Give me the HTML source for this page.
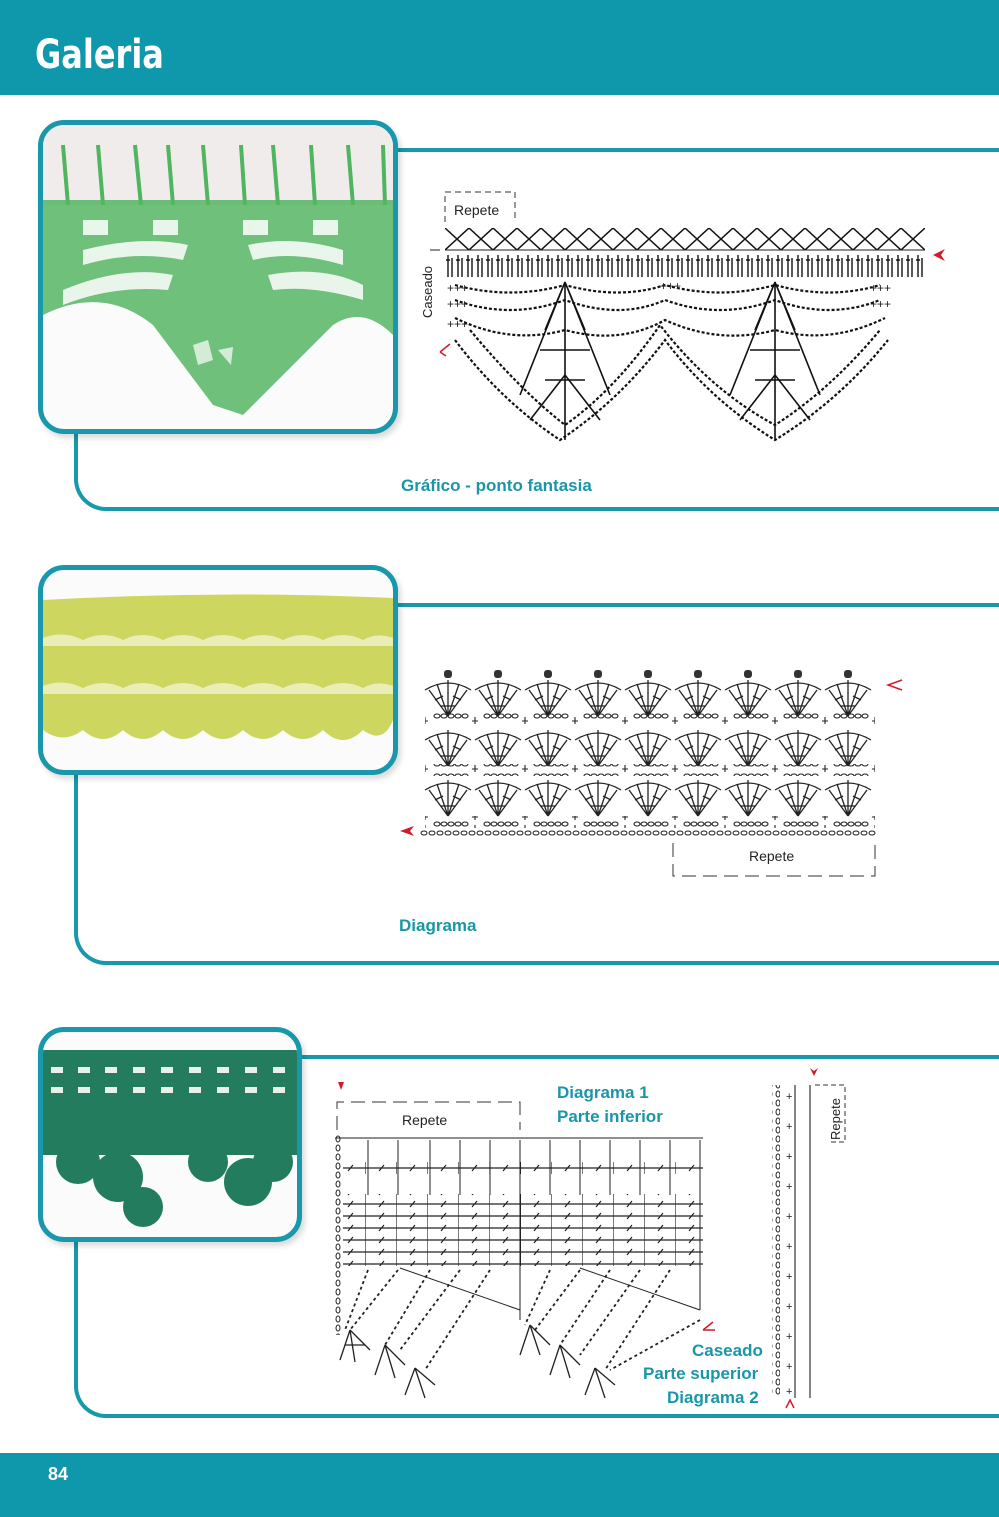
<!DOCTYPE html>
<html><head><meta charset="utf-8"><style>
*{margin:0;padding:0;box-sizing:border-box}
body{width:999px;height:1517px;position:relative;background:#fff;overflow:hidden;font-family:"Liberation Sans",sans-serif}
.abs{position:absolute}
.frame{position:absolute;border:4px solid #1898aa;border-right:none;border-radius:32px 0 0 32px;}
.photo{position:absolute;border:5px solid #1898aa;border-radius:26px;overflow:hidden;background:#fbfbfb;box-shadow:3px 4px 6px rgba(0,0,0,.15)}
.lbl{position:absolute;color:#1a96a8;font-weight:bold;font-size:17px}
</style></head><body>
<div class="abs" style="left:0;top:0;width:999px;height:95px;background:#0f98ab"></div>
<div class="abs" style="left:35px;top:32px;color:#fff;font-size:40px;font-weight:bold;font-family:'DejaVu Sans',sans-serif;transform:scaleX(0.8);transform-origin:left top">Galeria</div>
<div class="abs" style="left:0;top:1453px;width:999px;height:64px;background:#0f98ab"></div>
<div class="abs" style="left:48px;top:1464px;color:#fff;font-size:18px;font-weight:bold">84</div>

<div class="frame" style="left:74px;top:148px;width:940px;height:363px"></div>
<div class="frame" style="left:74px;top:603px;width:940px;height:362px"></div>
<div class="frame" style="left:74px;top:1055px;width:940px;height:363px"></div>

<div class="photo" style="left:38px;top:120px;width:360px;height:314px">
<svg width="350" height="304" viewBox="0 0 350 304">
<rect width="350" height="80" fill="#f1ecec"/>
<g stroke="#4fb55e" stroke-width="4">
<line x1="20" y1="20" x2="25" y2="80"/><line x1="55" y1="20" x2="60" y2="80"/><line x1="92" y1="20" x2="98" y2="80"/><line x1="125" y1="20" x2="130" y2="80"/><line x1="160" y1="20" x2="165" y2="80"/><line x1="198" y1="20" x2="202" y2="80"/><line x1="230" y1="20" x2="235" y2="80"/><line x1="268" y1="20" x2="272" y2="80"/><line x1="305" y1="20" x2="310" y2="80"/><line x1="340" y1="20" x2="342" y2="80"/>
</g>
<path d="M0 75 H350 V210 Q320 180 290 200 L250 240 L200 290 L170 280 L110 200 Q60 160 0 190 Z" fill="#55b563" opacity=".85"/>
<g fill="#fff" opacity=".85">
<rect x="40" y="95" width="25" height="15"/><rect x="110" y="95" width="25" height="15"/><rect x="200" y="95" width="25" height="15"/><rect x="270" y="95" width="25" height="15"/>
<path d="M40 125 Q100 110 145 120 L140 135 Q90 125 40 140Z"/><path d="M205 120 Q250 110 300 125 L300 140 Q250 125 210 135Z"/>
<path d="M20 165 Q80 140 130 150 L125 165 Q70 160 20 180Z"/><path d="M225 150 Q280 140 320 160 L320 175 Q270 160 230 165Z"/>
</g>
<path d="M150 220 L165 215 L170 235 L155 240Z M175 225 L190 222 L188 240Z" fill="#fff" opacity=".7"/>
</svg></div>

<svg class="abs" style="left:415px;top:185px" width="560" height="275" viewBox="415 185 560 275">
<defs>
<pattern id="xx" x="445" y="228" width="24" height="22" patternUnits="userSpaceOnUse"><path d="M0 0 L24 22 M24 0 L0 22" stroke="#111" stroke-width="1.5"/></pattern>
<pattern id="st" x="445" y="255" width="10" height="24" patternUnits="userSpaceOnUse"><path d="M3 0 V24 M1 5 H5 M7 3 V24" stroke="#111" stroke-width="1.4"/></pattern>
</defs>
<path d="M445 222 V192 H515 V222" fill="none" stroke="#333" stroke-dasharray="6 4"/>
<text x="454" y="215" font-size="14" fill="#222">Repete</text>
<rect x="445" y="228" width="480" height="22" fill="url(#xx)"/>
<line x1="445" y1="250" x2="925" y2="250" stroke="#222"/>
<line x1="430" y1="250" x2="440" y2="250" stroke="#222"/>
<rect x="445" y="255" width="480" height="22" fill="url(#st)"/>
<text transform="translate(432,318) rotate(-90)" font-size="13" fill="#222">Caseado</text>
<path d="M933 255 l12 -6 l-4 6 l4 6z" fill="#d21a2a"/>
<path d="M440 352 l10 -8 M440 352 l6 4" stroke="#d21a2a" stroke-width="1.5"/>
<g fill="none" stroke="#111" stroke-width="2.2" stroke-dasharray="3 2">
<path d="M455 285 Q510 300 565 285 Q620 300 665 285 Q720 300 775 285 Q830 300 880 285"/>
<path d="M455 300 Q510 320 565 300 Q620 320 665 300 Q720 320 775 300 Q830 320 880 300"/>
<path d="M455 318 Q510 345 565 330 Q620 345 665 320 Q720 345 775 330 Q830 345 885 318"/>
<path d="M455 340 Q500 400 560 440 Q620 400 665 340 Q710 400 775 440 Q840 400 888 340"/>
<path d="M470 330 Q520 390 565 425 Q615 390 660 325 Q710 390 775 425 Q830 390 880 330"/>
</g>
<g stroke="#111" stroke-width="1.6" fill="none">
<path d="M565 282 L520 395 M565 282 L610 395 M565 282 L545 330 M565 282 L585 330 M565 282 V440 M540 350 L590 350 M545 380 L585 380"/>
<path d="M775 282 L730 395 M775 282 L820 395 M775 282 L755 330 M775 282 L795 330 M775 282 V440 M750 350 L800 350 M755 380 L795 380"/>
<path d="M565 375 L530 420 M565 375 L600 420 M775 375 L740 420 M775 375 L810 420"/>
</g>
<g fill="#222" font-size="12"><text x="447" y="292">+++</text><text x="447" y="308">+++</text><text x="447" y="328">+++</text><text x="660" y="290">+++</text><text x="870" y="292">+++</text><text x="870" y="308">+++</text></g>
</svg>
<div class="lbl" style="left:401px;top:476px">Gráfico - ponto fantasia</div>

<div class="photo" style="left:38px;top:565px;width:360px;height:210px">
<svg width="350" height="200" viewBox="0 0 350 200">
<path d="M0 30 Q175 20 350 28 V150 Q340 175 320 160 Q300 180 280 160 Q260 178 240 160 Q220 178 200 160 Q180 178 160 160 Q140 178 120 160 Q100 178 80 160 Q60 178 40 160 Q20 175 0 160Z" fill="#cdd760"/>
<g fill="#eef0c0" opacity=".9">
<path d="M0 68 Q20 60 40 70 Q60 60 80 70 Q100 60 120 70 Q140 60 160 70 Q180 60 200 70 Q220 60 240 70 Q260 60 280 70 Q300 60 320 70 Q335 62 350 68 V76 H0Z"/>
<path d="M0 116 Q20 108 40 118 Q60 108 80 118 Q100 108 120 118 Q140 108 160 118 Q180 108 200 118 Q220 108 240 118 Q260 108 280 118 Q300 108 320 118 Q335 110 350 116 V124 H0Z"/>
</g>
</svg></div>

<svg class="abs" style="left:395px;top:655px" width="520" height="230" viewBox="395 655 520 230">
<defs>
<pattern id="fan" x="423" y="668" width="50" height="50" patternUnits="userSpaceOnUse">
<g fill="none" stroke="#222" stroke-width="1.3"><path d="M2 22 Q25 8 48 22"/><path d="M25 48 L6 22 M25 48 L14 16 M25 48 V12 M25 48 L36 16 M25 48 L44 22 M12 32 L20 28 M30 28 L38 32 M18 38 L32 38"/></g>
<rect x="21" y="2" width="8" height="8" rx="3" fill="#333"/>
</pattern>
<pattern id="fan2" x="423" y="720" width="50" height="50" patternUnits="userSpaceOnUse">
<g fill="none" stroke="#222" stroke-width="1.3"><path d="M2 20 Q25 6 48 20"/><path d="M25 46 L6 20 M25 46 L14 14 M25 46 V10 M25 46 L36 14 M25 46 L44 20 M12 30 L20 26 M30 26 L38 30 M18 36 L32 36"/></g>
</pattern>
<pattern id="ch" x="425" y="712" width="50" height="12" patternUnits="userSpaceOnUse">
<g fill="none" stroke="#222" stroke-width="1.1"><ellipse cx="12" cy="4" rx="3" ry="2"/><ellipse cx="19" cy="4" rx="3" ry="2"/><ellipse cx="26" cy="4" rx="3" ry="2"/><ellipse cx="33" cy="4" rx="3" ry="2"/><ellipse cx="40" cy="4" rx="3" ry="2"/><path d="M0 5 V12 M-3 9 H3 M50 5 V12 M47 9 H53"/></g>
</pattern>
<pattern id="ch2" x="420" y="829" width="8" height="8" patternUnits="userSpaceOnUse"><ellipse cx="4" cy="4" rx="3" ry="2" fill="none" stroke="#222"/></pattern>
</defs>
<rect x="423" y="668" width="450" height="50" fill="url(#fan)"/>
<rect x="423" y="720" width="450" height="48" fill="url(#fan2)"/>
<rect x="423" y="772" width="450" height="48" fill="url(#fan2)"/>
<rect x="425" y="712" width="450" height="12" fill="url(#ch)"/>
<rect x="425" y="764" width="450" height="12" fill="url(#ch)"/>
<rect x="425" y="816" width="450" height="12" fill="url(#ch)"/>
<rect x="420" y="829" width="456" height="8" fill="url(#ch2)"/>
<path d="M673 843 V876 H875 V843" fill="none" stroke="#333" stroke-dasharray="14 7"/>
<text x="749" y="861" font-size="14" fill="#222">Repete</text>
<path d="M400 831 l14 -5 l-4 5 l4 5z" fill="#d21a2a"/>
<path d="M902 680 l-14 5 l14 5" fill="none" stroke="#d21a2a" stroke-width="1.5"/>
</svg>
<div class="lbl" style="left:399px;top:916px">Diagrama</div>

<div class="photo" style="left:38px;top:1027px;width:264px;height:215px">
<svg width="254" height="205" viewBox="0 0 254 205">
<rect x="0" y="18" width="254" height="105" fill="#237c5d"/>
<g fill="#e9efe9"><rect x="8" y="35" width="12" height="6"/><rect x="35" y="35" width="12" height="6"/><rect x="62" y="35" width="12" height="6"/><rect x="90" y="35" width="12" height="6"/><rect x="118" y="35" width="12" height="6"/><rect x="146" y="35" width="12" height="6"/><rect x="174" y="35" width="12" height="6"/><rect x="202" y="35" width="12" height="6"/><rect x="230" y="35" width="12" height="6"/>
<rect x="8" y="55" width="12" height="6"/><rect x="35" y="55" width="12" height="6"/><rect x="62" y="55" width="12" height="6"/><rect x="90" y="55" width="12" height="6"/><rect x="118" y="55" width="12" height="6"/><rect x="146" y="55" width="12" height="6"/><rect x="174" y="55" width="12" height="6"/><rect x="202" y="55" width="12" height="6"/><rect x="230" y="55" width="12" height="6"/></g>
<g fill="#237c5d"><circle cx="35" cy="130" r="22"/><circle cx="75" cy="145" r="25"/><circle cx="100" cy="175" r="20"/><circle cx="165" cy="130" r="20"/><circle cx="205" cy="150" r="24"/><circle cx="230" cy="130" r="20"/></g>
</svg></div>

<svg class="abs" style="left:325px;top:1060px" width="540" height="350" viewBox="325 1060 540 350">
<defs>
<pattern id="gr" x="335" y="1162" width="31" height="12" patternUnits="userSpaceOnUse"><path d="M0 6 H31 M31 0 V12 M13 9 L18 3" stroke="#222" stroke-width="1.2" fill="none"/></pattern>
<pattern id="vc" x="335" y="1135" width="8" height="9" patternUnits="userSpaceOnUse"><ellipse cx="3" cy="4" rx="2" ry="3" fill="none" stroke="#222"/></pattern>
</defs>
<path d="M338 1082 l6 0 l-3 8z" fill="#d21a2a"/>
<path d="M337 1130 V1102 H520 V1130" fill="none" stroke="#333" stroke-dasharray="14 7"/>
<text x="402" y="1125" font-size="14" fill="#222">Repete</text>
<line x1="335" y1="1138" x2="703" y2="1138" stroke="#222"/>
<rect x="335" y="1135" width="8" height="200" fill="url(#vc)"/>
<rect x="343" y="1162" width="360" height="12" fill="url(#gr)"/>
<rect x="343" y="1194" width="360" height="72" fill="url(#gr)"/>
<g stroke="#222" fill="none" stroke-width="1"><path d="M368 1140 V1195 M398 1140 V1195 M430 1140 V1195 M460 1140 V1195 M490 1140 V1195 M520 1140 V1320 M550 1140 V1195 M580 1140 V1195 M610 1140 V1195 M640 1140 V1195 M670 1140 V1195 M700 1140 V1310"/>
<path d="M400 1268 L520 1310 M580 1268 L700 1310"/></g>
<g fill="none" stroke="#222" stroke-width="1.8" stroke-dasharray="3 3">
<path d="M368 1270 L345 1330 M398 1270 L350 1330 M430 1270 L385 1345 M460 1270 L400 1350 M490 1270 L425 1370"/>
<path d="M550 1270 L525 1325 M580 1270 L535 1330 M610 1270 L560 1345 M640 1270 L580 1355 M670 1270 L605 1370 M700 1320 L610 1370"/>
</g>
<g fill="none" stroke="#222" stroke-width="1.3">
<path d="M350 1330 L340 1360 M350 1330 L355 1362 M350 1330 L370 1350 M345 1345 L365 1345"/>
<path d="M385 1345 L375 1375 M385 1345 L395 1378 M385 1345 L405 1365"/>
<path d="M415 1368 L405 1395 M415 1368 L425 1398 M415 1368 L435 1385"/>
<path d="M530 1325 L520 1355 M530 1325 L540 1355 M530 1325 L550 1345"/>
<path d="M560 1345 L550 1375 M560 1345 L570 1378 M560 1345 L580 1365"/>
<path d="M595 1368 L585 1395 M595 1368 L605 1398 M595 1368 L615 1385"/>
</g>
<path d="M703 1330 l10 -8 M703 1330 l12 0" stroke="#d21a2a" stroke-width="1.5"/>
<rect x="772" y="1085" width="8" height="310" fill="url(#vc)"/>
<g stroke="#222" stroke-width="1.1"><line x1="795" y1="1085" x2="795" y2="1398"/><line x1="810" y1="1085" x2="810" y2="1398"/></g>
<g fill="#222" font-size="11"><text x="786" y="1100">+</text><text x="786" y="1130">+</text><text x="786" y="1160">+</text><text x="786" y="1190">+</text><text x="786" y="1220">+</text><text x="786" y="1250">+</text><text x="786" y="1280">+</text><text x="786" y="1310">+</text><text x="786" y="1340">+</text><text x="786" y="1370">+</text><text x="786" y="1395">+</text></g>
<path d="M815 1085 H845 V1142 H830" fill="none" stroke="#333" stroke-dasharray="5 3"/>
<text transform="translate(840,1140) rotate(-90)" font-size="13" fill="#222">Repete</text>
<path d="M810 1068 l4 8 l4 -8 l-4 3z" fill="#d21a2a"/>
<path d="M786 1408 l4 -8 l4 8" fill="none" stroke="#d21a2a" stroke-width="1.5"/>
</svg>
<div class="lbl" style="left:557px;top:1083px">Diagrama 1</div>
<div class="lbl" style="left:557px;top:1107px">Parte inferior</div>
<div class="lbl" style="left:692px;top:1341px">Caseado</div>
<div class="lbl" style="left:643px;top:1364px">Parte superior</div>
<div class="lbl" style="left:667px;top:1388px">Diagrama 2</div>
</body></html>
